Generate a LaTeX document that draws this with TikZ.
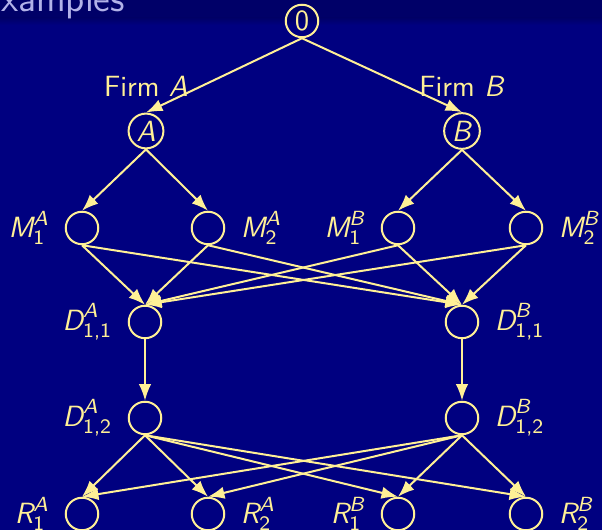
\documentclass[tikz,border=0pt]{standalone}
\usepackage{amsmath}
\usepackage{xcolor}
\usepackage{tikz}
\usetikzlibrary{arrows.meta}
\renewcommand{\familydefault}{\sfdefault}
\definecolor{slideblue}{RGB}{0,0,128}
\definecolor{headblue}{RGB}{0,0,104}
\definecolor{gameyellow}{RGB}{255,240,150}
\definecolor{titlelav}{RGB}{178,178,232}
% italic sans letter with sub- and superscript
\newcommand{\pl}[3]{$\textit{#1}_{\textup{#2}}^{\textit{#3}}$}

\begin{document}
\begin{tikzpicture}[x=0.4pt, y=-0.4pt, >=Latex, line width=0.8pt, gameyellow,
  every node/.style={font=\fontsize{11.7}{14}\selectfont},
  label distance=2.5pt,
  st/.style={draw, circle, inner sep=1pt, minimum size=13pt}]
  % slide background and title bar
  \useasboundingbox (0,0) rectangle (602,530);
  \fill[slideblue] (0,0) rectangle (602,530);
  \fill[headblue] (0,0) rectangle (602,18);
  \shade[top color=headblue, bottom color=slideblue] (0,18) rectangle (602,25);
  \node[anchor=base west, inner sep=0pt, text=titlelav, font=\fontsize{15.3}{18}\selectfont] (ttl) at (-22,12) {Examples};
  % game tree
  \node[st](o) at (302,21) {0};
  \node[st, label=above:Firm \textit{A}](a) at (146,131) {\textit{A}};
  \node[st, label=above:Firm \textit{B}](b) at (462,131) {\textit{B}};
  \node[st, label=left:\pl{M}{1}{A}](m1a) at (82,228) {};
  \node[st, label=right:\pl{M}{2}{A}](m2a) at (208,228) {};
  \node[st, label=left:\pl{M}{1}{B}](m1b) at (398,228) {};
  \node[st, label=right:\pl{M}{2}{B}](m2b) at (526,228) {};
  \node[st, label=left:\pl{D}{1,1}{A}](d11a) at (145,322) {};
  \node[st, label=right:\pl{D}{1,1}{B}](d11b) at (462,322) {};
  \node[st, label=left:\pl{D}{1,2}{A}](d12a) at (145,418) {};
  \node[st, label=right:\pl{D}{1,2}{B}](d12b) at (462,418) {};
  \node[st, label=left:\pl{R}{1}{A}](r1a) at (82,514) {};
  \node[st, label=right:\pl{R}{2}{A}](r2a) at (208,514) {};
  \node[st, label=left:\pl{R}{1}{B}](r1b) at (398,514) {};
  \node[st, label=right:\pl{R}{2}{B}](r2b) at (526,514) {};
  \foreach \a/\b in {o/a,o/b,a/m1a,a/m2a,b/m1b,b/m2b,d11a/d12a,d11b/d12b}{\draw[->](\a.south)--(\b.north);}
  \foreach \a in {m1a,m2a,m1b,m2b}{\foreach \b in {d11a,d11b}{\draw[->](\a.south)--(\b.north);}}
  \foreach \a in {d12a,d12b}{\foreach \b in {r1a,r2a,r1b,r2b}{\draw[->](\a.south)--(\b.north);}}
\end{tikzpicture}
\end{document}
